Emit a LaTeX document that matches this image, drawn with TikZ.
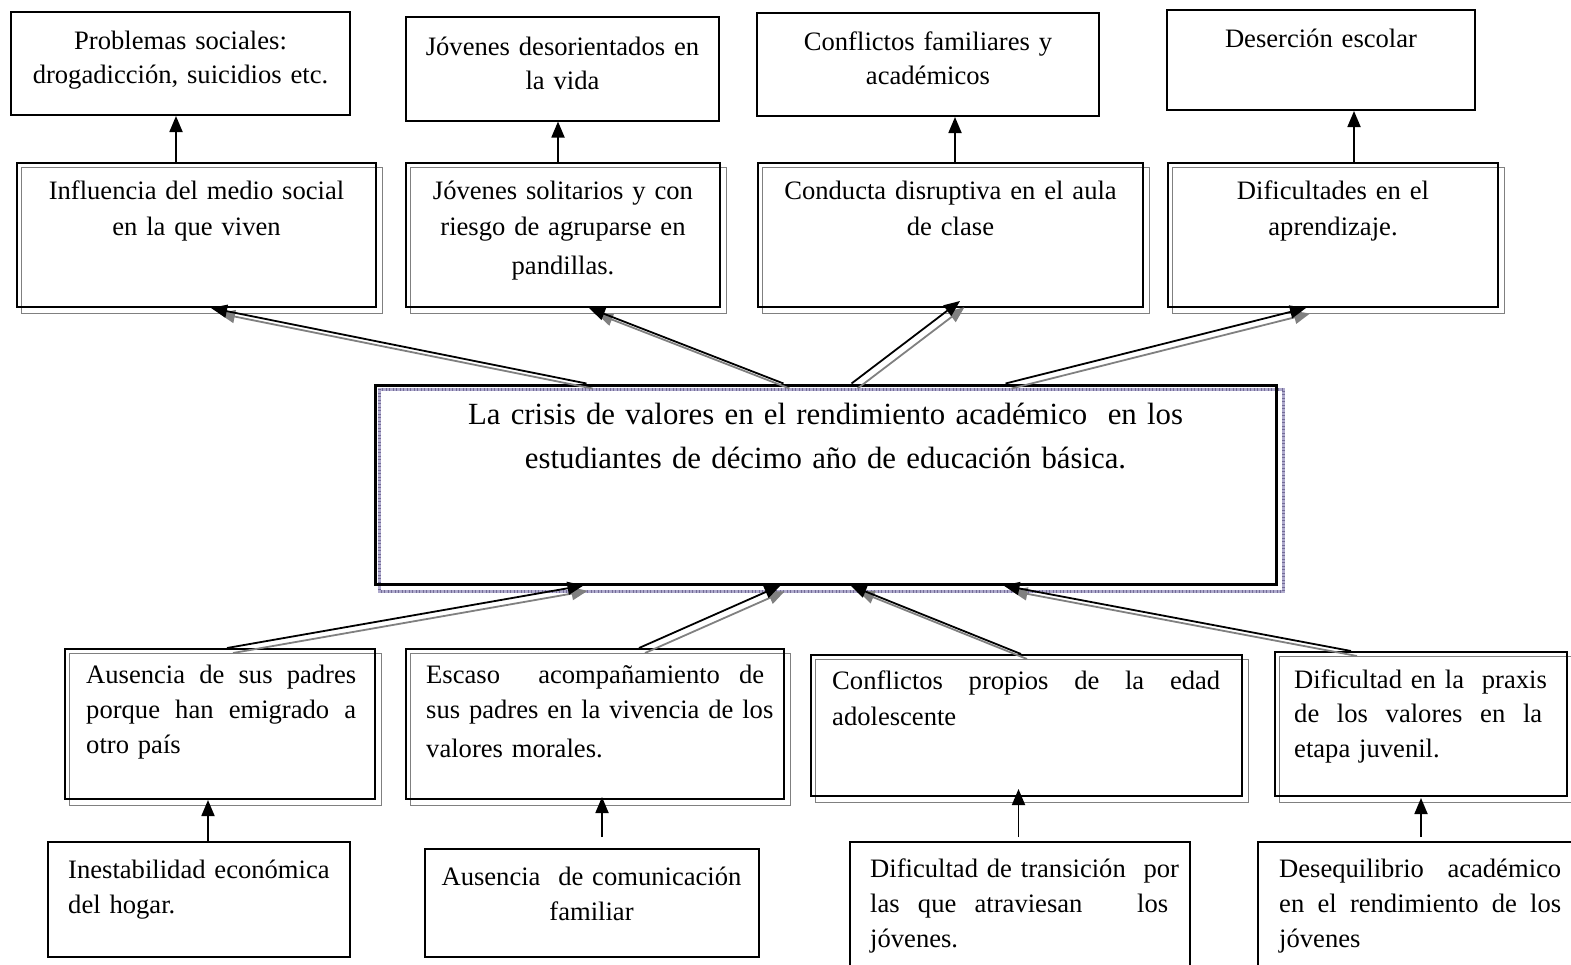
\documentclass[tikz,border=0pt]{standalone}
\usepackage{fontspec}
\setmainfont{Liberation Serif}
\usetikzlibrary{arrows.meta,backgrounds}
\definecolor{shgray}{RGB}{128,128,128}
\definecolor{lav}{RGB}{175,170,205}
\definecolor{lavd}{RGB}{115,108,150}
\newcommand{\jl}[2]{\leavevmode\hbox to #1{#2}}
\newcommand{\js}{\ \hfil}
\newcommand{\dblarrow}[2]{%
  \draw[garrow,transform canvas={xshift=6pt,yshift=-5pt}] #1 -- #2;
  \draw[barrow] #1 -- #2;}
\begin{document}
\begin{tikzpicture}[x=1pt,y=-1pt,
  sbox/.style={draw,line width=2pt,inner sep=0pt},
  cbox/.style={draw,line width=3pt,inner sep=0pt},
  gshadow/.style={draw=shgray,line width=1.8pt},
  txt/.style={font=\fontsize{26.6}{#1}\selectfont,inner sep=0pt},
  bigtxt/.style={font=\fontsize{30.8}{44}\selectfont,inner sep=0pt},
  barrow/.style={line width=1.8pt,-{Triangle[length=16pt,width=13pt]}},
  garrow/.style={draw=shgray,line width=1.8pt,-{Triangle[length=16pt,width=13pt]},shorten >=2pt},
  varrow/.style={line width=1.8pt,-{Triangle[length=16pt,width=13pt]}}]
\useasboundingbox (0,0) rectangle (1571,964);

% ---------- top row ----------
\node[sbox,minimum width=339pt,minimum height=103.5pt] (p1) at (180.5,63.25) {};
\node[sbox,minimum width=313pt,minimum height=103.5pt] (p2) at (562.5,68.75) {};
\node[sbox,minimum width=342pt,minimum height=103pt] (p3) at (928,64.5) {};
\node[sbox,minimum width=308pt,minimum height=100pt] (p4) at (1321,60) {};

\node[txt=33.5,anchor=north,text width=330pt,align=center] (p1t) at (180.5,26)
  {\strut Problemas sociales:\\ drogadicción, suicidios etc.};
\node[txt=34.5,anchor=north,text width=300pt,align=center] (p2t) at (562.5,31)
  {\strut Jóvenes desorientados en\\ la vida};
\node[txt=33.5,anchor=north,text width=330pt,align=center] (p3t) at (928,27)
  {\strut Conflictos familiares y\\ académicos};
\node[txt=33.5,anchor=north,text width=300pt,align=center] (p4t) at (1321,23.5)
  {\strut Deserción escolar};

% ---------- second row ----------
\node[sbox,minimum width=359pt,minimum height=144pt] (i1) at (196.5,235) {};
\node[sbox,minimum width=314pt,minimum height=144pt] (i2) at (563,235) {};
\node[sbox,minimum width=385pt,minimum height=144pt] (i3) at (950.5,235) {};
\node[sbox,minimum width=330pt,minimum height=144pt] (i4) at (1333,235) {};

\node[txt=36,anchor=north,text width=350pt,align=center] (i1t) at (196.5,173.8)
  {\strut Influencia del medio social\\ en la que viven};
\node[txt=36,anchor=north,text width=305pt,align=center] (i2t) at (563,173.8)
  {\strut Jóvenes solitarios y con\\ riesgo de agruparse en\\[3pt] pandillas.};
\node[txt=36,anchor=north,text width=375pt,align=center] (i3t) at (950.5,173.8)
  {\strut Conducta disruptiva en el aula\\ de clase};
\node[txt=36,anchor=north,text width=320pt,align=center] (i4t) at (1333,173.8)
  {\strut Dificultades en el\\ aprendizaje.};

% ---------- central ----------
\node[cbox,minimum width=901pt,minimum height=199pt] (c) at (825.5,484.5) {};
\node[bigtxt,anchor=north,text width=880pt,align=center] (ct) at (825.5,393.2)
  {\strut La crisis de valores en el rendimiento académico \ en los\\
   estudiantes de décimo año de educación básica.};

% ---------- lower second row ----------
\node[sbox,minimum width=310pt,minimum height=150pt] (a1) at (220,724) {};
\node[sbox,minimum width=378pt,minimum height=150pt] (a2) at (595,724) {};
\node[sbox,minimum width=431pt,minimum height=141pt] (a3) at (1026.5,725.5) {};
\node[sbox,minimum width=292pt,minimum height=144pt] (a4) at (1421,724) {};

\node[txt=35,anchor=north west,text width=270pt,align=left] (a1t) at (86,658.5)
  {\noindent\strut\jl{270pt}{Ausencia\js de\js sus\js padres}\\
   \jl{270pt}{porque\js han\js emigrado\js a}\\ otro país};
\node[txt=35,anchor=north west,text width=338pt,align=left] (a2t) at (426,658.5)
  {\noindent\strut\jl{338pt}{Escaso\js\js acompañamiento\js de}\\
   \jl{338pt}{sus\js padres\js en\js la\js vivencia\js de\js los}\\[4pt] valores morales.};
\node[txt=36,anchor=north west,text width=388pt,align=left] (a3t) at (832,663.8)
  {\noindent\strut\jl{388pt}{Conflictos\js propios\js de\js la\js edad}\\ adolescente};
\node[txt=34.5,anchor=north west,text width=248pt,align=left] (a4t) at (1294,663.85)
  {\noindent\strut\jl{248pt}{Dificultad\js en\js la\js\js praxis}\\
   \jl{248pt}{de\js los\js valores\js en\js la}\\ etapa juvenil.};

% ---------- bottom row ----------
\node[sbox,minimum width=302pt,minimum height=115pt] (b1) at (199,899.5) {};
\node[sbox,minimum width=334pt,minimum height=108pt] (b2) at (591.5,903) {};
\node[sbox,minimum width=340pt,minimum height=138pt] (b3) at (1020,911) {};
\node[sbox,minimum width=322pt,minimum height=138pt] (b4) at (1419,911) {};

\node[txt=35,anchor=north west,text width=280pt,align=left] (b1t) at (68,853.5)
  {\noindent\strut Inestabilidad económica\\ del hogar.};
\node[txt=35,anchor=north,text width=320pt,align=center] (b2t) at (591.5,860.5)
  {\strut Ausencia \ de comunicación\\ familiar};
\node[txt=35,anchor=north west,text width=298pt,align=left] (b3t) at (870,852.5)
  {\noindent\strut\jl{298pt}{Dificultad\js de\js transición\js\js por}\\
   \jl{298pt}{las\js que\js atraviesan\js\js\js los}\\ jóvenes.};
\node[txt=35,anchor=north west,text width=282pt,align=left] (b4t) at (1279,852.5)
  {\noindent\strut\jl{282pt}{Desequilibrio\js académico}\\
   \jl{282pt}{en\js el\js rendimiento\js de\js los}\\ jóvenes};

% ---------- shadows ----------
\begin{scope}[on background layer]
  \foreach \n in {i1,i2,i3,i4,a1,a2,a3,a4}
    \draw[gshadow] ([xshift=5.5pt,yshift=-5.5pt]\n.north west) rectangle ([xshift=5.5pt,yshift=-5.5pt]\n.south east);
  \draw[draw=lav,line width=3pt] ([xshift=6pt,yshift=-5.5pt]c.north west) rectangle ([xshift=6pt,yshift=-5.5pt]c.south east);
  \draw[draw=lavd,line width=3pt,dash pattern=on 1pt off 2.5pt] ([xshift=6pt,yshift=-5.5pt]c.north west) rectangle ([xshift=6pt,yshift=-5.5pt]c.south east);
\end{scope}

% ---------- vertical arrows ----------
\draw[varrow] ([xshift=160pt]i1.north west) -- ([xshift=166pt]p1.south west);
\draw[varrow] ([xshift=153pt]i2.north west) -- ([xshift=153pt]p2.south west);
\draw[varrow] ([xshift=198pt]i3.north west) -- ([xshift=199pt]p3.south west);
\draw[varrow] ([xshift=187pt]i4.north west) -- ([xshift=188pt]p4.south west);

\draw[varrow] ([xshift=161pt]b1.north west) -- ([xshift=144pt]a1.south west);
\draw[varrow] ([xshift=178.5pt,yshift=11pt]b2.north west) -- ([xshift=197pt,yshift=3pt]a2.south west);
\draw[varrow] ([xshift=169.5pt,yshift=4pt]b3.north west) -- ([xshift=208.5pt,yshift=8pt]a3.south west);
\draw[varrow] ([xshift=164pt,yshift=4pt]b4.north west) -- ([xshift=147pt,yshift=-1pt]a4.south west);

% ---------- double arrows ----------
\dblarrow{([xshift=213pt]c.north west)}{([xshift=195pt]i1.south west)}
\dblarrow{([xshift=410pt]c.north west)}{([xshift=184pt]i2.south west)}
\dblarrow{([xshift=478pt]c.north west)}{([xshift=203pt,yshift=7pt]i3.south west)}
\dblarrow{([xshift=632pt]c.north west)}{([xshift=139pt]i4.south west)}

\dblarrow{([xshift=163pt]a1.north west)}{([xshift=210pt]c.south west)}
\dblarrow{([xshift=234pt]a2.north west)}{([xshift=407pt]c.south west)}
\dblarrow{([xshift=211pt]a3.north west)}{([xshift=477pt]c.south west)}
\dblarrow{([xshift=77pt]a4.north west)}{([xshift=630pt]c.south west)}
\end{tikzpicture}
\end{document}
